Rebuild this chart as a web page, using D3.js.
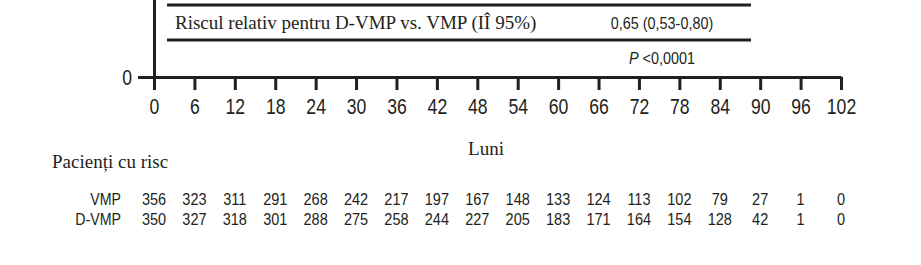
<!DOCTYPE html>
<meta charset="utf-8">
<head>
<style>
body{margin:0;background:#fff;}
text{fill:#231f20;}
.axis path,.axis line{stroke:#231f20;stroke-width:3px;}
.axis text{font-family:"Liberation Sans",Arial,sans-serif;font-size:22px;fill:#231f20;}
.serif{font-family:"Liberation Serif","Times New Roman",serif;font-size:19px;}
.narrow{font-family:"Liberation Sans",Arial,sans-serif;font-size:16.5px;}
.rule{stroke:#231f20;stroke-width:3px;}
</style>
</head>
<body>
<script src="https://d3js.org/d3.v7.min.js"></script>
<script>

var months=[0,6,12,18,24,30,36,42,48,54,60,66,72,78,84,90,96,102];
var groups=['VMP','D-VMP'];
var atRiskVMP=[356,323,311,291,268,242,217,197,167,148,133,124,113,102,79,27,1,0];
var atRiskDVMP=[350,327,318,301,288,275,258,244,227,205,183,171,164,154,128,42,1,0];
var hrLabel='Riscul relativ pentru D-VMP vs. VMP (IÎ 95%)';
var hrValue='0,65 (0,53-0,80)';
var pValue='<0,0001';

// the source uses a condensed sans; squeeze Liberation Sans horizontally
function squeeze(k){ return "scale("+k+",1)"; }
function pos(x0,y0,k){ return "translate("+x0+","+y0+") "+squeeze(k); }

var svg=d3.select("body").append("svg").attr("width",921).attr("height",265);

var x=d3.scaleLinear().domain([0,102]).range([154,841]);
var y=d3.scaleLinear().domain([0,1]).range([77,-400]);

// y axis, only the 0 tick shows
svg.append("g").attr("class","axis").attr("transform","translate(154,0)")
	.call(d3.axisLeft(y).tickValues([0]).tickFormat(d3.format("d")).tickSize(16).tickSizeOuter(0))
	.call(g=>g.selectAll("text").attr("x",-22/0.8).attr("dy","0.33em").attr("transform",squeeze(0.8)));

svg.append("g").attr("class","axis").attr("transform","translate(0,77)")
	.call(d3.axisBottom(x).tickValues(months).tickSize(13).tickSizeOuter(0).tickPadding(8))
	.call(g=>g.selectAll("text").attr("transform",squeeze(0.8)));

// hazard ratio box
svg.append("line").attr("class","rule").attr("x1",167).attr("x2",751).attr("y1",5).attr("y2",5);
svg.append("line").attr("class","rule").attr("x1",167).attr("x2",751).attr("y1",40).attr("y2",40);
svg.append("text").attr("class","serif").attr("x",175).attr("y",29).text(hrLabel);
svg.append("text").attr("class","narrow").style("font-size","16px").attr("transform",pos(662,29,0.9))
	.style("text-anchor","middle").text(hrValue);
var pt=svg.append("text").attr("class","narrow").style("font-size","16px").attr("transform",pos(662,64,0.9))
	.style("text-anchor","middle");
pt.append("tspan").style("font-style","italic").text("P");
pt.append("tspan").text(" "+pValue);

svg.append("text").attr("class","serif").attr("x",486).attr("y",155).style("text-anchor","middle").text("Luni");
svg.append("text").attr("class","serif").attr("x",52).attr("y",168).text("Pacienți cu risc");

[atRiskVMP,atRiskDVMP].forEach(function(row,i){
	var yy=205+i*20;
	svg.append("text").attr("class","narrow").attr("transform",pos(121,yy,0.86))
		.style("text-anchor","end").text(groups[i]);
	svg.append("g").selectAll("text").data(row).join("text")
		.attr("class","narrow")
		.attr("transform",(d,j)=>pos(x(months[j]),yy,0.88))
		.style("text-anchor","middle")
		.text(d=>d);
});
</script>
</body>
</html>
